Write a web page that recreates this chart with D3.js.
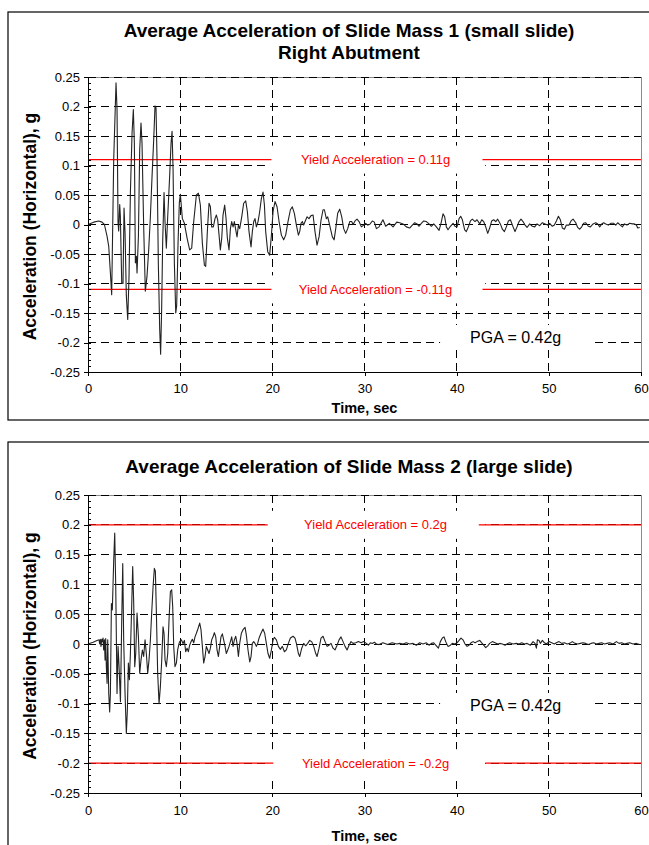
<!DOCTYPE html>
<html>
<head>
<meta charset="utf-8">
<script src="https://cdn.jsdelivr.net/npm/d3@7/dist/d3.min.js"></script>
<style>
  body { margin: 0; background: #fff; }
  svg { display: block; font-family: "Liberation Sans", Arial, sans-serif; }
</style>
</head>
<body>
<svg id="chart" width="649" height="845"></svg>
<script>
// ── data ────────────────────────────────────────────────────────────
var timeTicks = [0, 10, 20, 30, 40, 50, 60];
var accelTicks = [-0.25, -0.2, -0.15, -0.1, -0.05, 0, 0.05, 0.1, 0.15, 0.2, 0.25];
var accelTickLabels = ['-0.25', '-0.2', '-0.15', '-0.1', '-0.05', '0', '0.05', '0.1', '0.15', '0.2', '0.25'];

var massOneTitle = ['Average Acceleration of Slide Mass 1 (small slide)', 'Right Abutment'];
var massTwoTitle = ['Average Acceleration of Slide Mass 2 (large slide)'];

// [time s, acceleration g]
var massOneAccel = [
  [0, 0], [0.62, 0.004], [1.16, 0.006], [1.52, 0.004], [1.78, 0], [2.07, -0.02], [2.25, -0.037], [2.43, -0.082],
  [2.57, -0.119], [2.79, 0.11], [3.04, 0.24], [3.15, 0.195], [3.26, 0.003], [3.33, -0.011], [3.44, 0.034], [3.51, 0.014],
  [3.66, -0.099], [3.8, -0.1], [3.91, 0.028], [4.02, -0.014], [4.16, -0.121], [4.31, -0.161], [4.45, -0.088], [4.6, 0.054],
  [4.78, 0.155], [4.92, 0.195], [5.03, 0.138], [5.14, -0.065], [5.25, -0.054], [5.32, -0.082], [5.47, -0.02], [5.61, 0.127],
  [5.75, 0.172], [5.86, 0.138], [6.04, -0.003], [6.22, -0.113], [6.4, -0.088], [6.59, -0.042], [6.77, 0.014], [6.95, 0.082],
  [7.13, 0.144], [7.27, 0.201], [7.38, 0.198], [7.49, 0.11], [7.63, -0.065], [7.78, -0.178], [7.88, -0.22], [7.99, -0.144],
  [8.1, -0.031], [8.25, 0.054], [8.36, 0.003], [8.5, -0.04], [8.65, 0.014], [8.86, 0.082], [9.01, 0.138], [9.12, 0.158],
  [9.23, 0.093], [9.37, -0.065], [9.52, -0.15], [9.62, -0.138], [9.77, -0.031], [9.91, 0.037], [10.02, 0.051], [10.24, 0.01],
  [10.46, 0.002], [10.75, -0.023], [11.03, -0.043], [11.25, -0.04], [11.47, 0.005], [11.76, 0.05], [11.98, 0.053], [12.19, 0.033],
  [12.41, -0.032], [12.63, -0.069], [12.77, -0.071], [12.95, -0.012], [13.13, 0.036], [13.28, 0.03], [13.42, -0.004], [13.6, -0.004],
  [13.78, 0.01], [13.93, 0.016], [14.07, 0.008], [14.22, -0.018], [14.36, -0.043], [14.51, -0.023], [14.65, 0.016], [14.83, 0.033],
  [14.98, 0.01], [15.12, -0.023], [15.3, -0.043], [15.45, -0.007], [15.59, 0.005], [15.74, -0.004], [15.88, 0.005], [16.03, -0.009],
  [16.17, -0.021], [16.32, -0.001], [16.46, -0.007], [16.68, 0.013], [16.89, 0.036], [17.11, 0.04], [17.29, 0.022], [17.47, -0.012],
  [17.69, -0.038], [17.83, -0.012], [17.98, 0.005], [18.12, 0.01], [18.27, -0.004], [18.45, 0.005], [18.63, 0.022], [18.81, 0.044],
  [18.99, 0.055], [19.14, 0.033], [19.28, -0.012], [19.5, -0.046], [19.71, -0.052], [19.9, -0.018], [20.08, 0.022], [20.29, 0.039],
  [20.51, 0.03], [20.73, 0.005], [20.98, -0.018], [21.23, -0.026], [21.45, -0.018], [21.7, 0.005], [21.96, 0.025], [22.17, 0.03],
  [22.39, 0.019], [22.61, -0.001], [22.83, -0.018], [22.97, -0.012], [23.11, 0.002], [23.26, 0.005], [23.4, -0.001], [23.55, 0.005],
  [23.77, 0.013], [23.98, 0.01], [24.2, 0.015], [24.42, 0.016], [24.63, -0.012], [24.85, -0.035], [25.07, -0.021], [25.28, 0.007],
  [25.5, 0.025], [25.65, 0.025], [25.86, 0.01], [26.01, 0.013], [26.22, -0.001], [26.51, -0.021], [26.7, -0.026], [26.88, -0.007],
  [27.09, 0.019], [27.31, 0.026], [27.53, 0.013], [27.74, -0.007], [27.96, -0.015], [28.18, -0.007], [28.4, 0.005], [28.61, 0.005],
  [28.76, 0], [28.97, 0.006], [29.19, 0.009], [29.41, 0.005], [29.66, -0.004], [29.91, -0.001], [30.13, 0.002], [30.35, -0.001],
  [30.56, 0], [30.85, 0.006], [31.07, 0.004], [31.29, -0.007], [31.58, -0.004], [32.0, 0.008], [32.3, -0.003], [32.7, 0.002],
  [33.1, -0.004], [33.5, 0.004], [33.82, 0.003], [34.18, 0.001], [34.54, -0.004], [34.9, -0.006], [35.19, -0.001], [35.45, 0.003],
  [35.7, 0.001], [35.92, -0.003], [36.17, 0.002], [36.42, 0.006], [36.71, 0.005], [37.0, 0.001], [37.26, -0.003], [37.51, 0.001],
  [37.8, -0.004], [38.09, -0.01], [38.3, 0.002], [38.52, 0.018], [38.7, 0.013], [38.88, -0.004], [39.06, -0.009], [39.32, -0.003],
  [39.61, 0.002], [39.82, -0.003], [40.04, -0.004], [40.26, 0.01], [40.44, 0.014], [40.62, 0.008], [40.87, -0.009], [41.05, -0.012],
  [41.27, -0.004], [41.49, 0.006], [41.7, 0.009], [41.99, 0.005], [42.21, 0.008], [42.5, 0.001], [42.72, 0.008], [42.93, 0.005],
  [43.15, -0.004], [43.37, -0.015], [43.58, -0.006], [43.8, 0.006], [44.02, 0.008], [44.24, 0.005], [44.45, 0.009], [44.74, 0.001],
  [44.96, -0.008], [45.18, -0.012], [45.39, -0.004], [45.61, 0.006], [45.83, 0.008], [46.12, -0.004], [46.33, -0.012], [46.55, -0.004],
  [46.77, 0.005], [46.98, 0.009], [47.2, 0.005], [47.42, -0.001], [47.64, -0.005], [47.92, 0.001], [48.21, -0.003], [48.47, -0.004],
  [48.72, 0.001], [49.01, -0.002], [49.3, 0.003], [49.59, 0.001], [49.88, -0.001], [50.09, 0.002], [50.38, -0.003], [50.6, -0.001],
  [50.82, 0.006], [51.04, 0.014], [51.25, 0.008], [51.47, -0.006], [51.69, -0.008], [51.9, -0.001], [52.19, -0.001], [52.41, 0.006],
  [52.63, 0.009], [52.92, 0.003], [53.13, -0.005], [53.35, -0.008], [53.57, -0.004], [53.78, 0.002], [54.0, 0.003], [54.29, -0.003],
  [54.51, -0.004], [54.8, 0.001], [55.09, 0.003], [55.3, 0.001], [55.52, -0.004], [55.74, 0.001], [55.95, 0.003], [56.17, 0.001],
  [56.46, -0.001], [56.75, 0.002], [57.04, 0.002], [57.26, -0.001], [57.47, 0.003], [57.76, -0.001], [57.98, -0.004], [58.2, 0.001],
  [58.48, -0.001], [58.77, 0.002], [59.06, 0.001], [59.28, 0.001], [59.5, -0.001], [59.64, -0.006], [59.86, -0.005]
];

var massTwoAccel = [
  [0, 0], [0.55, 0.003], [0.98, 0.006], [1.2, 0.007], [1.27, 0], [1.34, 0.008], [1.41, -0.004], [1.49, 0.008],
  [1.56, 0.004], [1.63, 0.01], [1.7, -0.01], [1.78, 0.007], [1.85, -0.027], [1.92, 0.009], [1.99, -0.038], [2.07, -0.066],
  [2.14, 0.007], [2.25, -0.083], [2.35, -0.114], [2.43, -0.083], [2.54, 0.068], [2.64, 0.057], [2.79, 0.141], [2.9, 0.186],
  [3.01, 0.096], [3.15, -0.083], [3.26, -0.004], [3.37, -0.038], [3.52, -0.097], [3.66, 0.04], [3.77, 0.135], [3.87, 0.007],
  [4.02, -0.083], [4.16, -0.15], [4.27, -0.111], [4.38, -0.032], [4.49, -0.06], [4.6, -0.016], [4.74, 0.063], [4.85, 0.13],
  [4.96, 0.068], [5.07, -0.038], [5.18, -0.016], [5.32, 0.052], [5.47, 0.012], [5.61, -0.049], [5.75, -0.027], [5.9, -0.01],
  [6.04, -0.021], [6.19, 0.007], [6.33, -0.016], [6.48, -0.049], [6.62, -0.027], [6.77, 0.007], [6.91, 0.052], [7.06, 0.096],
  [7.2, 0.127], [7.31, 0.122], [7.42, 0.052], [7.56, -0.049], [7.71, -0.1], [7.85, -0.072], [8.0, -0.027], [8.14, 0.029],
  [8.25, 0.018], [8.36, -0.027], [8.5, -0.038], [8.65, -0.016], [8.79, 0.04], [8.94, 0.088], [9.08, 0.091], [9.19, 0.063],
  [9.3, -0.004], [9.44, -0.038], [9.59, -0.032], [9.73, -0.01], [9.88, 0.001], [9.95, 0.004], [10.13, 0.007], [10.31, 0.001],
  [10.46, 0.006], [10.6, -0.013], [10.75, -0.007], [10.89, -0.013], [11.03, -0.002], [11.18, 0.004], [11.32, 0.008], [11.47, 0.002],
  [11.61, 0.012], [11.76, 0.018], [11.94, 0.026], [12.12, 0.035], [12.26, 0.024], [12.41, -0.004], [12.55, -0.032], [12.7, -0.021],
  [12.84, -0.004], [12.99, -0.01], [13.13, -0.016], [13.28, -0.007], [13.42, 0.007], [13.57, 0.012], [13.71, 0.019], [13.86, 0.012],
  [14.0, -0.01], [14.15, -0.021], [14.29, -0.004], [14.43, 0.012], [14.58, 0.017], [14.72, 0.007], [14.87, -0.004], [15.01, -0.016],
  [15.16, -0.01], [15.3, -0.004], [15.45, 0.004], [15.59, 0.012], [15.74, -0.004], [15.88, 0.007], [16.03, 0.013], [16.17, 0.001],
  [16.32, -0.021], [16.46, 0.001], [16.64, 0.018], [16.82, 0.024], [17.04, 0.028], [17.18, 0.015], [17.36, -0.01], [17.55, -0.03],
  [17.69, -0.021], [17.83, 0.001], [17.98, 0.004], [18.12, 0.001], [18.27, -0.004], [18.41, 0.001], [18.56, 0.01], [18.77, 0.018],
  [18.99, 0.025], [19.17, 0.018], [19.35, 0.001], [19.53, -0.016], [19.71, -0.024], [19.9, -0.01], [20.08, 0.007], [20.22, 0.011],
  [20.44, 0.007], [20.66, -0.004], [20.87, -0.009], [21.09, -0.004], [21.31, -0.013], [21.52, -0.01], [21.74, 0.001], [21.96, 0.01],
  [22.25, 0.013], [22.46, 0.01], [22.61, 0.001], [22.83, -0.016], [22.97, -0.021], [23.19, -0.007], [23.4, 0.001], [23.62, -0.003],
  [23.84, 0.001], [24.05, 0.006], [24.27, 0.004], [24.49, -0.004], [24.71, -0.016], [24.85, -0.021], [25.07, -0.007], [25.28, 0.01],
  [25.5, 0.013], [25.72, 0.004], [25.94, -0.004], [26.15, -0.002], [26.37, 0.001], [26.59, -0.007], [26.8, -0.01], [27.02, -0.002],
  [27.24, 0.007], [27.45, 0.012], [27.67, 0.004], [27.89, -0.004], [28.11, -0.01], [28.32, -0.002], [28.54, 0.004], [28.76, 0.001],
  [29.05, 0.002], [29.34, 0.004], [29.62, 0.002], [29.91, 0.004], [30.2, 0.001], [30.42, -0.002], [30.64, 0.002], [30.85, 0.001],
  [31.07, 0.003], [31.29, 0], [31.58, -0.001], [32.0, 0.002], [32.5, -0.001], [33.0, 0.002], [33.5, 0], [33.82, 0.001],
  [34.18, 0], [34.54, 0.002], [34.9, 0], [35.27, 0.001], [35.63, -0.002], [35.99, 0.002], [36.35, 0], [36.71, 0.002],
  [37.0, -0.002], [37.26, 0.001], [37.51, 0.002], [37.8, -0.003], [38.02, -0.007], [38.23, 0.004], [38.45, 0.01], [38.63, 0.012],
  [38.81, 0.004], [39.06, -0.004], [39.32, -0.002], [39.53, 0.001], [39.79, 0], [40.04, 0.002], [40.26, 0.006], [40.47, 0.01],
  [40.69, 0.007], [40.91, 0], [41.13, -0.004], [41.34, -0.002], [41.56, 0.002], [41.78, 0.004], [42.0, 0.002], [42.21, 0.004],
  [42.5, 0.006], [42.72, 0.002], [42.93, -0.002], [43.15, -0.006], [43.37, -0.003], [43.58, 0.001], [43.87, 0.004], [44.16, 0.002],
  [44.45, 0], [44.67, 0.001], [44.96, 0], [45.25, -0.002], [45.54, 0.001], [45.75, 0.002], [46.12, 0], [46.48, 0.001],
  [46.77, 0], [47.06, 0.002], [47.35, 0], [47.64, 0.001], [48.0, -0.002], [48.29, 0.004], [48.5, 0.001], [48.65, -0.007],
  [48.76, 0.007], [48.94, 0.006], [49.08, 0.001], [49.3, 0.006], [49.52, 0.002], [49.73, 0], [50.02, 0.004], [50.31, 0.002],
  [50.6, 0], [50.82, 0.002], [51.11, 0.004], [51.4, 0.001], [51.69, 0.002], [51.98, 0], [52.26, 0.001], [52.55, 0.004],
  [52.84, 0.001], [53.13, 0], [53.42, 0.001], [53.71, 0.002], [54.0, 0.001], [54.29, -0.001], [54.58, 0.001], [54.87, 0.002],
  [55.16, 0], [55.45, 0.001], [55.74, 0.002], [56.03, 0], [56.32, 0.001], [56.6, 0.002], [56.97, 0], [57.33, 0.004],
  [57.62, 0.001], [57.91, 0.002], [58.2, 0], [58.48, 0.001], [58.77, 0.002], [59.14, 0], [59.5, 0.001], [59.86, -0.001]
];

// yield lines: value, label, drawn time spans
var massOneYield = [
  { value: 0.11, label: 'Yield Acceleration = 0.11g', spans: [[0, 19.9], [42.8, 60]] },
  { value: -0.11, label: 'Yield Acceleration = -0.11g', spans: [[0, 19.9], [42.8, 60]] }
];
var massTwoYield = [
  { value: 0.2, label: 'Yield Acceleration = 0.2g', spans: [[0, 19.5], [42.4, 60]] },
  { value: -0.2, label: 'Yield Acceleration = -0.2g', spans: [[0, 20.1], [43.1, 60]] }
];
var pgaLabel = 'PGA = 0.42g';

// ── drawing ─────────────────────────────────────────────────────────
var svg = d3.select('#chart');

function drawPanel(opt) {
  var g = svg.append('g');
  var plot = opt.plot;

  // chart frame
  g.append('rect').attr('x', opt.box.x).attr('y', opt.box.y).attr('width', opt.box.w).attr('height', opt.box.h)
    .attr('fill', '#fff').attr('stroke', '#000').attr('stroke-width', 1.2);

  var x = d3.scaleLinear().domain([0, 60]).range([plot.left, plot.left + plot.width]);
  var y = d3.scaleLinear().domain([-0.25, 0.25]).range([plot.top + plot.height, plot.top]);

  // plot area border (grey)
  g.append('rect').attr('x', plot.left).attr('y', plot.top).attr('width', plot.width).attr('height', plot.height)
    .attr('fill', 'none').attr('stroke', '#8c8c8c').attr('stroke-width', 1).attr('shape-rendering', 'crispEdges');

  // dashed grid
  var grid = g.append('g').attr('stroke', '#000').attr('stroke-width', 1).attr('stroke-dasharray', '8,5')
    .attr('shape-rendering', 'crispEdges');
  accelTicks.forEach(function (v) {
    grid.append('line').attr('x1', plot.left).attr('x2', plot.left + plot.width).attr('y1', y(v)).attr('y2', y(v));
  });
  timeTicks.slice(1, -1).forEach(function (t) {
    grid.append('line').attr('x1', x(t)).attr('x2', x(t)).attr('y1', plot.top).attr('y2', plot.top + plot.height);
  });

  // white text boxes, as in the spreadsheet
  opt.yield.forEach(function (yl) {
    g.append('rect').attr('x', x(19.2)).attr('width', x(43.1) - x(19.2))
      .attr('y', y(yl.value) - 14).attr('height', 28).attr('fill', '#fff');
  });
  g.append('rect').attr('x', x(38.2)).attr('width', x(55.0) - x(38.2))
    .attr('y', opt.pgaY - 12).attr('height', 24).attr('fill', '#fff');

  // yield lines
  opt.yield.forEach(function (yl) {
    yl.spans.forEach(function (s) {
      g.append('line').attr('x1', x(s[0])).attr('x2', x(s[1])).attr('y1', y(yl.value)).attr('y2', y(yl.value))
        .attr('stroke', '#ff0000').attr('stroke-width', 1.2);
    });
    g.append('text').attr('x', x(31.2)).attr('y', y(yl.value)).attr('dy', '0.35em')
      .attr('text-anchor', 'middle').attr('font-size', 13).attr('fill', '#ff0000').text(yl.label);
  });

  // acceleration trace
  var line = d3.line().x(function (d) { return x(d[0]); }).y(function (d) { return y(d[1]); });
  g.append('path').datum(opt.series).attr('d', line)
    .attr('fill', 'none').attr('stroke', '#222').attr('stroke-width', 1.1).attr('stroke-linejoin', 'round');

  // axes
  g.append('g').attr('transform', 'translate(' + plot.left + ',0)')
    .call(d3.axisLeft(y).tickValues(accelTicks).tickSizeInner(4).tickSizeOuter(0).tickPadding(4)
      .tickFormat(function (d, i) { return accelTickLabels[i]; }));
  g.append('g').attr('transform', 'translate(' + plot.left + ',0)')
    .call(d3.axisRight(y).tickValues(d3.range(-25, 26).map(function (k) { return k / 100; }))
      .tickSize(3).tickSizeOuter(0).tickFormat(''));
  g.append('g').attr('transform', 'translate(0,' + (plot.top + plot.height) + ')')
    .call(d3.axisBottom(x).tickValues(timeTicks).tickSizeInner(4).tickSizeOuter(0).tickPadding(opt.xPad));
  g.selectAll('.domain, .tick line').attr('stroke', '#000').attr('shape-rendering', 'crispEdges');
  g.selectAll('.tick text').attr('font-size', 13).attr('fill', '#000').attr('font-family', '"Liberation Sans", Arial, sans-serif');

  // titles
  opt.title.forEach(function (t, i) {
    g.append('text').attr('x', opt.titleX).attr('y', opt.titleY + i * 22).attr('text-anchor', 'middle')
      .attr('font-size', 19).attr('font-weight', 'bold').text(t);
  });
  g.append('text').attr('x', plot.left + plot.width / 2).attr('y', opt.xTitleY).attr('text-anchor', 'middle')
    .attr('font-size', 14.5).attr('font-weight', 'bold').text('Time, sec');
  g.append('text').attr('transform', 'translate(' + opt.yTitleX + ',' + (plot.top + plot.height / 2 + 2) + ') rotate(-90)')
    .attr('text-anchor', 'middle').attr('font-size', 17.5).attr('font-weight', 'bold').text('Acceleration (Horizontal), g');

  g.append('text').attr('x', x(46.4)).attr('y', opt.pgaY).attr('dy', '0.35em').attr('text-anchor', 'middle')
    .attr('font-size', 16).attr('fill', '#000').text(pgaLabel);
}

drawPanel({
  box: { x: 8, y: 12, w: 660, h: 408 },
  plot: { left: 88, top: 77, width: 553, height: 295 },
  series: massOneAccel, yield: massOneYield, title: massOneTitle,
  titleX: 349, titleY: 37, xTitleY: 413, yTitleX: 36, xPad: 8, pgaY: 337
});
drawPanel({
  box: { x: 8, y: 442, w: 660, h: 420 },
  plot: { left: 88, top: 495, width: 553, height: 298 },
  series: massTwoAccel, yield: massTwoYield, title: massTwoTitle,
  titleX: 349, titleY: 473, xTitleY: 841, yTitleX: 36, xPad: 9, pgaY: 705
});
</script>
</body>
</html>
